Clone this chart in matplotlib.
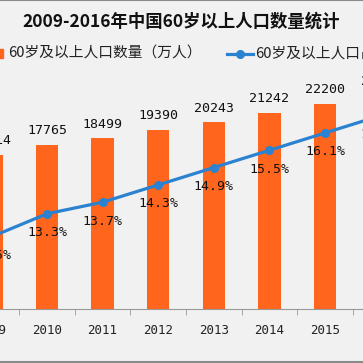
import matplotlib
matplotlib.use("Agg")
import matplotlib.pyplot as plt
from matplotlib.lines import Line2D
from matplotlib.patches import Rectangle

years = ["2009", "2010", "2011", "2012", "2013", "2014", "2015", "2016"]
population = [16714, 17765, 18499, 19390, 20243, 21242, 22200, 23086]
share = [12.5, 13.3, 13.7, 14.3, 14.9, 15.5, 16.1, 16.7]
share_labels = ["12.5%", "13.3%", "13.7%", "14.3%", "14.9%", "15.5%", "16.1%", "16.7%"]

title = "2009-2016年中国60岁以上人口数量统计"
bar_name = "60岁及以上人口数量（万人）"
line_name = "60岁及以上人口占比"

orange = "#ff651c"
blue = "#2b82d0"
bg = "#f1f1f1"
cjk = ["Noto Sans CJK SC", "DejaVu Sans"]
mono = ["DejaVu Sans Mono"]

W = 363.0
fig = plt.figure(figsize=(3.63, 3.63), dpi=100, facecolor=bg)
# the reference is a crop of a wider chart, so the axes run past both edges
ax = fig.add_axes([-36.4 / W, 0.1488, 444.8 / W, 0.636])
ax.set_facecolor(bg)

x = list(range(len(years)))
ax.bar(x, population, width=0.4, color=orange, zorder=2)
ax.set_ylim(0, 25000)

for xi, v in zip(x, population):
    ax.annotate(str(v), (xi, v), xytext=(0, 14), textcoords="offset pixels",
                ha="center", va="center", fontsize=9.5, family=mono, color="#111111")

ax2 = ax.twinx()
ax2.set_ylim(10, 18)
ax2.plot(x, share, color=blue, lw=2.3, marker="o", ms=5.5, zorder=3)
for xi, v, s in zip(x, share, share_labels):
    ax2.annotate(s, (xi, v), xytext=(0, -19), textcoords="offset pixels",
                 ha="center", va="center", fontsize=9.5, family=mono, color="#111111")

for a in (ax, ax2):
    for side in ("top", "left", "right"):
        a.spines[side].set_visible(False)
    a.set_yticks([])
ax2.spines["bottom"].set_visible(False)
ax.spines["bottom"].set_color("#999999")

ax.set_xticks(x)
ax.set_xticklabels(years, family=mono, fontsize=9, color="#222222")
ax.tick_params(axis="x", length=0, pad=11)
ax.set_xticks([i + 0.5 for i in x[:-1]], minor=True)
ax.tick_params(axis="x", which="minor", length=4, color="#999999")
ax.set_xlim(-0.5, 7.5)

fig.text(0.5, 0.94, title, ha="center", va="center", fontsize=12.5,
         fontweight="bold", family=cjk, color="#111111")

# legend
ly = 1 - 54 / W
fig.add_artist(Rectangle((-7 / W, ly - 4 / W), 10 / W, 9 / W,
                         transform=fig.transFigure, color=orange))
fig.text(8 / W, ly, bar_name, ha="left", va="center", fontsize=10.6,
         family=cjk, color="#222222")
fig.add_artist(Line2D([227 / W, 253 / W], [ly, ly], transform=fig.transFigure,
                      color=blue, lw=2.3))
fig.add_artist(Line2D([240 / W], [ly], transform=fig.transFigure,
                      color=blue, marker="o", ms=5.5))
fig.text(255 / W, ly, line_name, ha="left", va="center", fontsize=10.6,
         family=cjk, color="#222222")

# frame lines
fig.add_artist(Line2D([0, 1], [0.999, 0.999], transform=fig.transFigure, color="#8a8a8a", lw=1.5))
fig.add_artist(Line2D([0, 1], [0.002, 0.002], transform=fig.transFigure, color="#8a8a8a", lw=1.5))

fig.savefig("out.png", dpi=100, facecolor=bg)
